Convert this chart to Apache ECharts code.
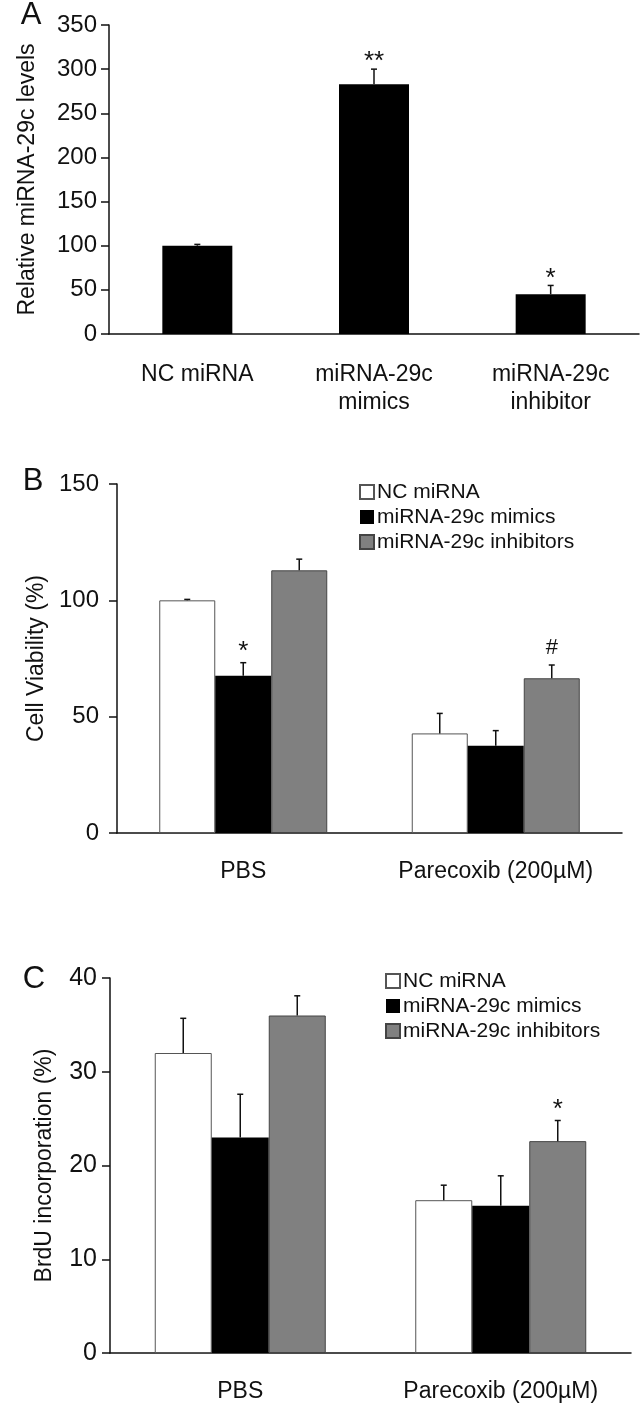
<!DOCTYPE html>
<html>
<head>
<meta charset="utf-8">
<script src="https://cdn.jsdelivr.net/npm/echarts@6/dist/echarts.min.js"></script>
<style>
html,body{margin:0;padding:0;background:#fff;}
#chart{width:640px;height:1408px;}
</style>
</head>
<body>
<div id="chart"></div>
<script>
// ---------- DATA ----------
const catsA = ['NC miRNA', 'miRNA-29c\nmimics', 'miRNA-29c\ninhibitor'];
const valsA = [100, 283, 45];
const errsA = [1.5, 17, 10];
const sigA  = ['', '**', '*'];
const ticksA = [0, 350, 50]; // min, max, interval

const seriesNames = ['NC miRNA', 'miRNA-29c mimics', 'miRNA-29c inhibitors'];
const catsBC = ['PBS', 'Parecoxib (200\u00B5M)'];

const B_nc  = [100, 42.8];  const B_nc_err  = [0.4, 8.6];  const B_nc_sig  = ['', ''];
const B_mim = [67.6, 37.5]; const B_mim_err = [5.6, 6.5];  const B_mim_sig = ['*', ''];
const B_inh = [112.9, 66.5];const B_inh_err = [4.8, 5.7];  const B_inh_sig = ['', '#'];
const ticksB = [0, 150, 50];

const C_nc  = [32.0, 16.3]; const C_nc_err  = [3.7, 1.6];  const C_nc_sig  = ['', ''];
const C_mim = [23.0, 15.7]; const C_mim_err = [4.6, 3.2];  const C_mim_sig = ['', ''];
const C_inh = [36.0, 22.6]; const C_inh_err = [2.1, 2.2];  const C_inh_sig = ['', '*'];
const ticksC = [0, 40, 10];

const titleA = 'Relative miRNA-29c levels';
const titleB = 'Cell Viability (%)';
const titleC = 'BrdU incorporation (%)';

// ---------- STYLE ----------
const FONT = "'Liberation Sans', Arial, sans-serif";
const fills = ['#ffffff', '#000000', '#808080'];
const borders = ['#555555', '#000000', '#444444'];
const bwB = 56, bwC = 57, bwA = 70;

const chart = echarts.init(document.getElementById('chart'), null, {renderer: 'canvas'});

function xAxisCfg(grid, cats, lineH) {
  return {
    type: 'category', gridIndex: grid, data: cats,
    axisLine: {lineStyle: {color: '#111', width: 1.5}},
    axisTick: {length: 8, lineStyle: {color: '#111', width: 1.5}},
    axisLabel: {color: '#111', fontFamily: FONT, fontSize: 23, margin: 27, lineHeight: lineH, interval: 0}
  };
}
function yAxisCfg(grid, t, name, gap, margin, fs) {
  return {
    type: 'value', gridIndex: grid, min: t[0], max: t[1], interval: t[2],
    name: name, nameLocation: 'middle', nameGap: gap,
    nameTextStyle: {color: '#111', fontFamily: FONT, fontSize: 23},
    splitLine: {show: false},
    axisLine: {show: true, lineStyle: {color: '#111', width: 1.5}},
    axisTick: {show: true, length: 8, lineStyle: {color: '#111', width: 1.5}},
    axisLabel: {color: '#111', fontFamily: FONT, fontSize: fs, margin: margin}
  };
}
function barSeries(grid, name, vals, idx, bw) {
  return {
    type: 'bar', name: name, xAxisIndex: grid, yAxisIndex: grid, data: vals,
    barWidth: bw, barGap: '0%',
    itemStyle: {color: fills[idx], borderColor: borders[idx], borderWidth: idx === 1 ? 0 : 1}
  };
}
function errSeries(grid, vals, errs, sig, offset, starGap) {
  return {
    type: 'custom', xAxisIndex: grid, yAxisIndex: grid, silent: true, z: 10,
    data: vals.map((v, i) => [i, v, errs[i]]),
    encode: {x: 0, y: 1},
    renderItem: function (params, api) {
      const i = api.value(0), v = api.value(1), e = api.value(2);
      const b = api.coord([i, v]);
      const t = api.coord([i, v + e]);
      const x = b[0] + offset;
      const st = {stroke: '#111', lineWidth: 1.5};
      const children = [
        {type: 'line', shape: {x1: x, y1: b[1], x2: x, y2: t[1]}, style: st},
        {type: 'line', shape: {x1: x - 3, y1: t[1], x2: x + 3, y2: t[1]}, style: st}
      ];
      const s = sig[params.dataIndex];
      if (s) {
        const isHash = s === '#';
        children.push({type: 'text', x: x, y: t[1] - starGap + (isHash ? 0 : 6),
          style: {text: s, fill: '#111', font: (isHash ? '22px ' : '26px ') + FONT, textAlign: 'center', textVerticalAlign: 'middle'}});
      }
      return {type: 'group', children: children};
    }
  };
}

const option = {
  backgroundColor: '#fff',
  animation: false,
  grid: [
    {left: 109, right: 1, top: 25, bottom: 1408 - 334},
    {left: 117, right: 18, top: 484, bottom: 1408 - 833},
    {left: 110, right: 9, top: 978, bottom: 1408 - 1353}
  ],
  xAxis: [
    xAxisCfg(0, catsA, 28),
    xAxisCfg(1, catsBC, 23),
    xAxisCfg(2, catsBC, 23)
  ],
  yAxis: [
    yAxisCfg(0, ticksA, titleA, 70, 12, 24),
    yAxisCfg(1, ticksB, titleB, 57, 18, 24),
    yAxisCfg(2, ticksC, titleC, 54, 13, 25)
  ],
  legend: [
    {data: seriesNames, orient: 'vertical', left: 354, top: 476, itemWidth: 14, itemHeight: 14, itemGap: 3,
     icon: 'rect', selectedMode: false, textStyle: {color: '#111', fontFamily: FONT, fontSize: 21, lineHeight: 22, padding: [0, 0, 0, -2]}},
    {data: seriesNames, orient: 'vertical', left: 380, top: 965, itemWidth: 14, itemHeight: 14, itemGap: 3,
     icon: 'rect', selectedMode: false, textStyle: {color: '#111', fontFamily: FONT, fontSize: 21, lineHeight: 22, padding: [0, 0, 0, -2]}}
  ],
  graphic: [
    {type: 'text', x: 31, y: 15, style: {text: 'A', font: '31px ' + FONT, fill: '#111', textAlign: 'center', textVerticalAlign: 'middle'}},
    {type: 'text', x: 33, y: 481, style: {text: 'B', font: '31px ' + FONT, fill: '#111', textAlign: 'center', textVerticalAlign: 'middle'}},
    {type: 'text', x: 34, y: 979, style: {text: 'C', font: '31px ' + FONT, fill: '#111', textAlign: 'center', textVerticalAlign: 'middle'}}
  ],
  series: [
    {type: 'bar', xAxisIndex: 0, yAxisIndex: 0, data: valsA, barWidth: bwA, itemStyle: {color: '#000'}},
    errSeries(0, valsA, errsA, sigA, 0, 13),

    barSeries(1, seriesNames[0], B_nc, 0, bwB),
    barSeries(1, seriesNames[1], B_mim, 1, bwB),
    barSeries(1, seriesNames[2], B_inh, 2, bwB),
    errSeries(1, B_nc, B_nc_err, B_nc_sig, -bwB, 17),
    errSeries(1, B_mim, B_mim_err, B_mim_sig, 0, 17),
    errSeries(1, B_inh, B_inh_err, B_inh_sig, bwB, 17),

    barSeries(2, seriesNames[0], C_nc, 0, bwC),
    barSeries(2, seriesNames[1], C_mim, 1, bwC),
    barSeries(2, seriesNames[2], C_inh, 2, bwC),
    errSeries(2, C_nc, C_nc_err, C_nc_sig, -bwC, 17),
    errSeries(2, C_mim, C_mim_err, C_mim_sig, 0, 17),
    errSeries(2, C_inh, C_inh_err, C_inh_sig, bwC, 17)
  ]
};
chart.setOption(option);
</script>
</body>
</html>
